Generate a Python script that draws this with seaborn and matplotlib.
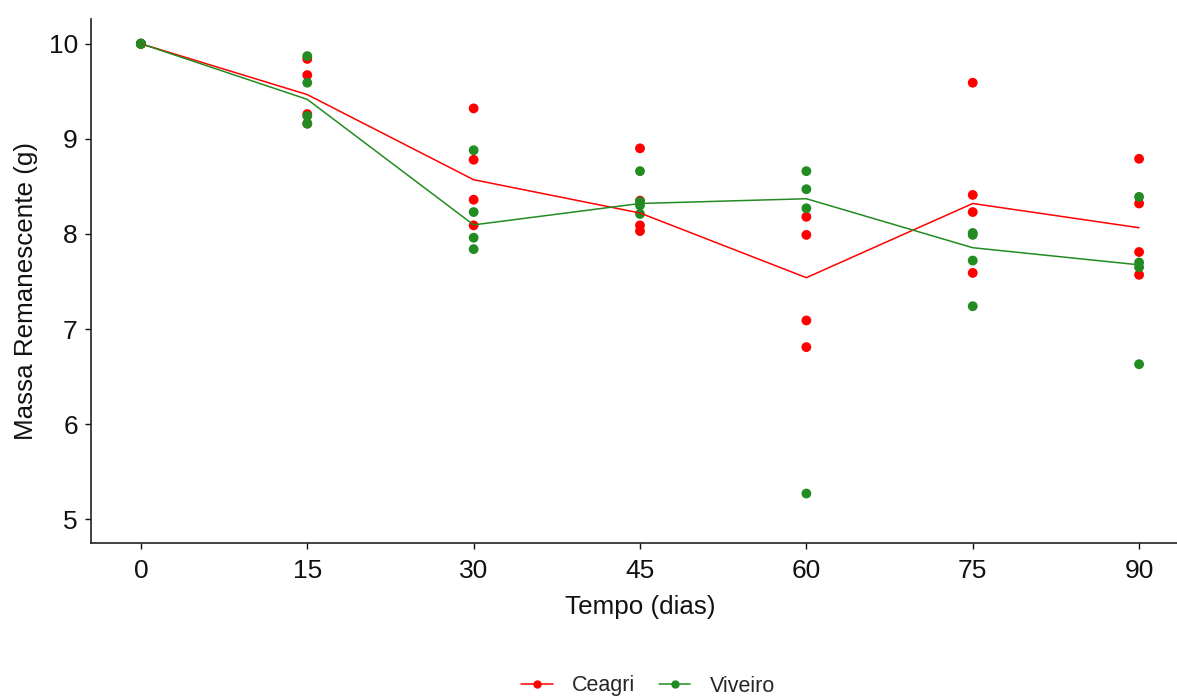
import pandas as pd
import numpy as np
import seaborn as sns
import matplotlib.pyplot as plt

tempo = [0, 15, 30, 45, 60, 75, 90]
ceagri = [
    [10.0, 10.0, 10.0, 10.0],
    [9.84, 9.67, 9.26, 9.16],
    [9.32, 8.78, 8.36, 8.09],
    [8.90, 8.35, 8.09, 8.03],
    [8.18, 7.99, 7.09, 6.81],
    [9.59, 8.41, 8.23, 7.59],
    [8.79, 8.32, 7.81, 7.57],
]
viveiro = [
    [10.0, 10.0, 10.0, 10.0],
    [9.87, 9.59, 9.24, 9.16],
    [8.88, 8.23, 7.96, 7.84],
    [8.66, 8.34, 8.30, 8.21],
    [8.66, 8.47, 8.27, 5.27],
    [8.01, 7.99, 7.72, 7.24],
    [8.39, 7.70, 7.65, 6.63],
]
locais = ["Ceagri", "Viveiro"]
cores = {"Ceagri": "#FF0000", "Viveiro": "#228B22"}

rows = []
for local, dados in zip(locais, [ceagri, viveiro]):
    for t, vals in zip(tempo, dados):
        for v in vals:
            rows.append({"Tempo": t, "Massa": v, "Local": local})
df = pd.DataFrame(rows)

sns.set_style("white")
plt.rcParams['font.family'] = ['Liberation Sans', 'DejaVu Sans']

fig = plt.figure(figsize=(11.77, 6.97), dpi=100)
ax = fig.add_axes([91 / 1177, 1 - 543 / 697, 1098 / 1177, 524 / 697])

sns.scatterplot(data=df, x="Tempo", y="Massa", hue="Local", palette=cores,
                s=50, edgecolor="none", legend=False, ax=ax, zorder=2)
# linhas = mediana por tempo
sns.lineplot(data=df, x="Tempo", y="Massa", hue="Local", palette=cores,
             estimator="median", errorbar=None, linewidth=1.1, ax=ax,
             legend=False, zorder=3)

ax.set_xlim(-4.5, 94.5)
ax.set_ylim(4.75, 10.26)
ax.set_xticks(tempo)
ax.set_yticks([5, 6, 7, 8, 9, 10])
ax.set_xlabel("Tempo (dias)", fontsize=18.7, color="#111111", labelpad=9)
ax.set_ylabel("Massa Remanescente (g)", fontsize=18.7, color="#111111")
ax.yaxis.set_label_coords(-0.048, 0.48)
ax.tick_params(axis="both", labelsize=19, colors="#111111", length=4,
               width=1, direction="out", bottom=True, left=True)
ax.tick_params(axis="x", pad=7.5)
ax.tick_params(axis="y", pad=5.5)
for s in ["top", "right"]:
    ax.spines[s].set_visible(False)
for s in ["left", "bottom"]:
    ax.spines[s].set_color("#222222")
    ax.spines[s].set_linewidth(1.2)

handles = [plt.Line2D([], [], color=cores[l], marker="o", markersize=5,
                      linewidth=1.1) for l in locais]
fig.legend(handles, locais, loc="center", bbox_to_anchor=(0.5506, 1 - 686 / 697),
           ncol=2, frameon=False, fontsize=15.5, handlelength=1.45,
           columnspacing=1.1, handletextpad=0.9)

fig.savefig("out.png", dpi=100)
